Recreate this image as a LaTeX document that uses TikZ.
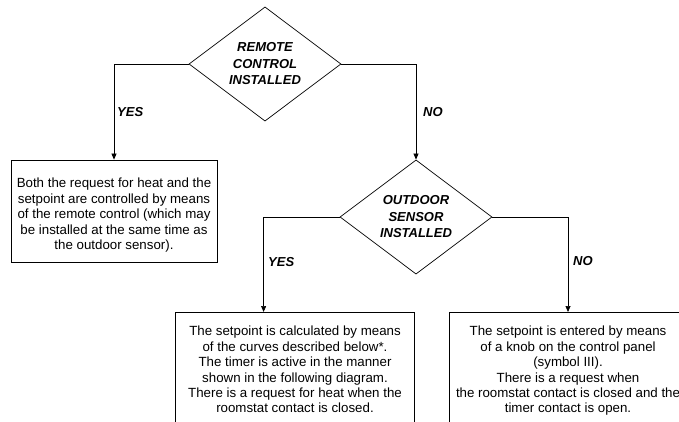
\documentclass[tikz,border=0pt]{standalone}
\usepackage{fontspec}
\setmainfont{Liberation Sans}
\usetikzlibrary{shapes.geometric,arrows.meta,calc}
\begin{document}
\begin{tikzpicture}[x=1pt,y=1pt,
  dec/.style={draw, diamond, minimum width=152, minimum height=114, inner sep=0pt, align=center, line width=0.7pt, font=\fontsize{13}{16.5}\selectfont\bfseries\itshape},
  box/.style={draw, rectangle, line width=0.8pt, inner sep=0pt},
  txt/.style={align=center, inner sep=0pt, font=\fontsize{13.3}{15.4}\selectfont},
  lbl/.style={inner sep=0pt, font=\fontsize{13}{15}\selectfont\bfseries\itshape},
  conn/.style={line width=0.7pt},
  arr/.style={conn, -{Triangle[width=5pt,length=6pt]}}]
\useasboundingbox (0,0) rectangle (679,-421);
\clip (0,0) rectangle (679,-421);

\node[dec] (d1) at (265,-64) {REMOTE\\CONTROL\\INSTALLED};
\node[dec] (d2) at (416,-217) {OUTDOOR\\SENSOR\\INSTALLED};

\node[box, minimum width=206, minimum height=102] (b1) at (114,-211) {};
\node[txt, anchor=north] (t1) at (114,-178)
  {Both the request for heat and the\\setpoint are controlled by means\\of the remote control (which may\\be installed at the same time as\\the outdoor sensor).};

\node[box, minimum width=239, minimum height=140, anchor=north] (b2) at (294.5,-312) {};
\node[txt, anchor=north] (t2) at (295,-326)
  {The setpoint is calculated by means\\of the curves described below*.\\The timer is active in the manner\\shown in the following diagram.\\There is a request for heat when the\\roomstat contact is closed.};

\node[box, minimum width=238, minimum height=140, anchor=north] (b3) at (568,-312) {};
\node[txt, anchor=north] (t3) at (568,-326)
  {The setpoint is entered by means\\of a knob on the control panel\\(symbol III).\\There is a request when\\the roomstat contact is closed and the\\timer contact is open.};

\draw[arr] (d1.west) -| (b1.north);
\draw[arr] (d1.east) -| (d2.north);
\draw[arr] (d2.west) -| ($(b2.north west)+(89,0)$);
\draw[arr] (d2.east) -| (b3.north);

\node[lbl, anchor=west] (y1) at (117,-112) {YES};
\node[lbl, anchor=west] (n1) at (423,-112) {NO};
\node[lbl, anchor=west] (y2) at (268,-262) {YES};
\node[lbl, anchor=west] (n2) at (573,-261) {NO};
\end{tikzpicture}
\end{document}
